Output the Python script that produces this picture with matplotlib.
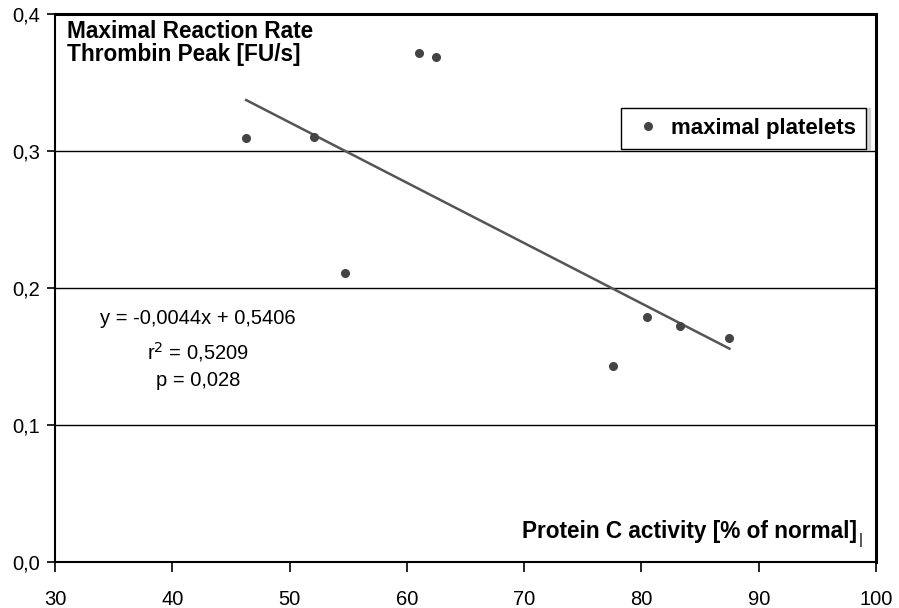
import matplotlib
matplotlib.use("Agg")
import matplotlib.pyplot as plt
import numpy as np

plt.rcParams["font.family"] = ["Liberation Sans", "DejaVu Sans"]

# protein C activity [% of normal] vs. maximal reaction rate [FU/s]
protein_c = [46.3, 52.1, 54.7, 61.0, 62.5, 77.6, 80.5, 83.3, 87.5]
max_rate = [0.309, 0.310, 0.211, 0.371, 0.368, 0.143, 0.179, 0.172, 0.163]

# linear fit as reported
slope = -0.0044
intercept = 0.5406
r_squared = "0,5209"
p_value = "0,028"

x_ticks = [30, 40, 50, 60, 70, 80, 90, 100]
y_ticks = [0.0, 0.1, 0.2, 0.3, 0.4]
y_ticklabels = ["0,0", "0,1", "0,2", "0,3", "0,4"]

W, H = 899, 608
X0, X1, Y0, Y1 = 55, 876, 562, 13.5  # plot frame in pixels
fig = plt.figure(figsize=(W / 100, H / 100), dpi=100)
ax = fig.add_axes([X0 / W, 1 - Y0 / H, (X1 - X0) / W, (Y0 - Y1) / H])


def ax_pos(px, py):
    """pixel position -> axes fraction"""
    return (px - X0) / (X1 - X0), (Y0 - py) / (Y0 - Y1)


ax.set_xlim(30, 100)
ax.set_ylim(0, 0.4)

for yv in y_ticks[1:-1]:
    ax.axhline(yv, color="black", lw=1.0, zorder=1)

ax.plot(protein_c, max_rate, "o", color="#444444", ms=5.5, mec="#444444",
        zorder=3, label="maximal platelets")

x_fit = np.array([min(protein_c), max(protein_c)])
ax.plot(x_fit, slope * x_fit + intercept, color="#555555", lw=1.8, zorder=2)

ax.set_xticks(x_ticks)
ax.set_xticklabels([str(t) for t in x_ticks])
ax.set_yticks(y_ticks)
ax.set_yticklabels(y_ticklabels)
ax.tick_params(axis="x", direction="out", length=7, width=1.2, pad=13,
               labelsize=14.5, colors="black")
ax.tick_params(axis="y", direction="out", length=6, width=1.2, pad=5,
               labelsize=14.5, colors="black")

for side in ["left", "bottom"]:
    ax.spines[side].set_linewidth(1.5)
for side in ["top", "right"]:
    ax.spines[side].set_linewidth(2.2)

bold = dict(transform=ax.transAxes, fontsize=16.3, fontweight="bold")
ax.text(*ax_pos(67, 38), "Maximal Reaction Rate", ha="left", va="baseline", **bold)
ax.text(*ax_pos(67, 61), "Thrombin Peak [FU/s]", ha="left", va="baseline", **bold)
ax.text(*ax_pos(857, 538), "Protein C activity [% of normal]",
        ha="right", va="baseline", **bold)
ax.text(*ax_pos(861, 540), "|", transform=ax.transAxes, fontsize=11,
        ha="center", va="center")

eq = dict(transform=ax.transAxes, fontsize=14.5, ha="center", va="center")
ax.text(*ax_pos(198, 319),
        f"y = {slope:.4f}x + {intercept:.4f}".replace(".", ","), **eq)
ax.text(*ax_pos(198, 352), f"r$^2$ = {r_squared}", **eq)
ax.text(*ax_pos(198, 380), f"p = {p_value}", **eq)

leg = ax.legend(loc="upper right", bbox_to_anchor=ax_pos(866, 108),
                borderaxespad=0, fancybox=False, frameon=True,
                prop={"weight": "bold", "size": 16}, handletextpad=0.3,
                handlelength=1.5, borderpad=0.45,
                shadow={"ox": 3, "oy": 0, "color": "0.7"})
leg.get_frame().set_edgecolor("black")
leg.get_frame().set_linewidth(1.0)

fig.savefig("out.png", dpi=100)
